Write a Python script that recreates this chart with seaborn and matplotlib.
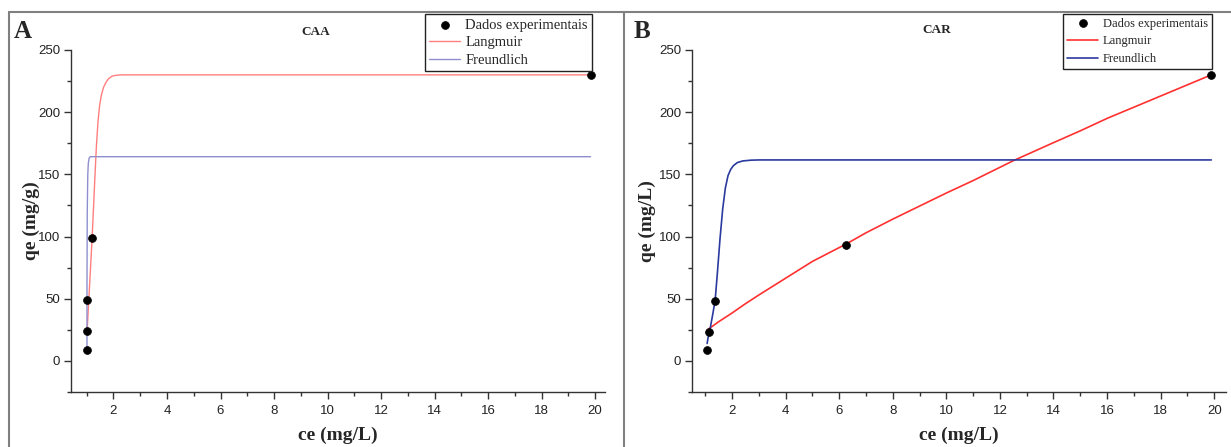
import matplotlib
matplotlib.use("Agg")
import matplotlib.pyplot as plt
import seaborn as sns
import pandas as pd
from matplotlib.ticker import MultipleLocator
from matplotlib.lines import Line2D

sns.set_theme(style="white")
plt.rcParams['font.family'] = ['Liberation Sans', 'DejaVu Sans']

# ---------------- Panel A: CAA ----------------
a_exp_ce = [1.01, 1.01, 1.01, 1.20, 19.83]
a_exp_qe = [9, 24, 49, 98.5, 230]
a_lang_ce = [1.01, 1.10, 1.20, 1.30, 1.36, 1.42, 1.48, 1.55, 1.63, 1.72, 1.82, 1.95, 2.10, 2.30, 19.83]
a_lang_qe = [22, 58, 98, 145, 172, 192, 205, 214, 220, 224, 227, 229, 229.7, 230, 230]
a_freu_ce = [1.01, 1.01, 1.02, 1.04, 1.06, 1.09, 1.13, 19.83]
a_freu_qe = [9, 60, 120, 150, 159, 163, 164.2, 164.2]

# ---------------- Panel B: CAR ----------------
b_exp_ce = [1.05, 1.15, 1.36, 6.26, 19.89]
b_exp_qe = [9, 23.5, 48.5, 93.5, 230]
b_lang_ce = [1.08, 1.5, 2.0, 2.5, 3.0, 4.0, 5.0, 6.26, 7.0, 8.0, 9.0, 10.0, 11.0, 12.5, 14.0, 15.0, 16.0, 17.0, 18.0, 19.89]
b_lang_qe = [25, 31.5, 38.5, 46, 53, 66.5, 80, 94, 103, 114, 124.5, 135, 145, 161, 175.5, 185, 195, 204, 213, 230]
b_freu_ce = [1.07, 1.10, 1.20, 1.30, 1.37, 1.45, 1.55, 1.65, 1.75, 1.85, 1.95, 2.05, 2.2, 2.4, 2.7, 3.0, 19.89]
b_freu_qe = [14, 18, 28, 40, 49, 70, 98, 122, 139, 149, 154, 157, 159.5, 160.8, 161.4, 161.6, 161.6]

fig = plt.figure(figsize=(12.31, 4.47), dpi=100)

# panel frames
gray = "#808080"
fig.add_artist(Line2D([8.7/1231, 1.0], [1-11.7/447]*2, color=gray, lw=1.5))
fig.add_artist(Line2D([8.7/1231]*2, [0, 1-11.7/447], color=gray, lw=1.5))
fig.add_artist(Line2D([623.5/1231]*2, [0, 1-11.7/447], color=gray, lw=1.5))

axA = fig.add_axes([71.2/1231, 1-392/447, (605-71.2)/1231, (392-50)/447])
axB = fig.add_axes([692.4/1231, 1-392/447, (1226-692.4)/1231, (392-50)/447])

serif = ['Liberation Serif', 'DejaVu Serif']

def draw(ax, exp_ce, exp_qe, l_ce, l_qe, f_ce, f_qe, lcol, fcol, lw, xlim, ylabel):
    sns.lineplot(x=l_ce, y=l_qe, ax=ax, color=lcol, lw=lw, sort=False, estimator=None,
                 label="Langmuir")
    sns.lineplot(x=f_ce, y=f_qe, ax=ax, color=fcol, lw=lw, sort=False, estimator=None,
                 label="Freundlich")
    sns.scatterplot(x=exp_ce, y=exp_qe, ax=ax, color="black", s=32, edgecolor="black",
                    linewidth=0.5, zorder=5, label="Dados experimentais")
    ax.set_xlim(*xlim)
    ax.set_ylim(-25, 250)
    ax.xaxis.set_minor_locator(MultipleLocator(1))
    ax.yaxis.set_minor_locator(MultipleLocator(25))
    ax.set_xticks([2, 4, 6, 8, 10, 12, 14, 16, 18, 20])
    ax.set_yticks([0, 50, 100, 150, 200, 250])
    for s in ["top", "right"]:
        ax.spines[s].set_visible(False)
    for s in ["left", "bottom"]:
        ax.spines[s].set_color("#333333")
        ax.spines[s].set_linewidth(1.0)
    ax.tick_params(which="major", direction="out", length=5, width=1, color="#333333",
                   labelsize=9.5, labelcolor="#222222", left=True, bottom=True)
    ax.tick_params(axis="x", which="major", pad=4)
    ax.tick_params(axis="y", which="major", pad=3)
    ax.tick_params(which="minor", direction="out", length=3, width=1, color="#333333",
                   left=True, bottom=True)
    ax.set_xlabel("ce (mg/L)", fontsize=14, fontweight="bold", family=serif)
    ax.set_ylabel(ylabel, fontsize=14, fontweight="bold", family=serif)
    ax.xaxis.set_label_coords(0.5, -0.1)
    ax.grid(False)
    ax.set_facecolor("white")

draw(axA, a_exp_ce, a_exp_qe, a_lang_ce, a_lang_qe, a_freu_ce, a_freu_qe,
     "#ff7f7f", "#8f8fd0", 1.0, (0.42, 20.37), "qe (mg/g)")
draw(axB, b_exp_ce, b_exp_qe, b_lang_ce, b_lang_qe, b_freu_ce, b_freu_qe,
     "#ff3030", "#2a3a9e", 1.2, (0.52, 20.44), "qe (mg/L)")
axA.yaxis.set_label_coords(-0.058, 0.5)
axB.yaxis.set_label_coords(-0.068, 0.5)

def legend(ax, right, fs, hl, ls):
    h, l = ax.get_legend_handles_labels()
    order = [l.index("Dados experimentais"), l.index("Langmuir"), l.index("Freundlich")]
    leg = ax.legend([h[i] for i in order], [l[i] for i in order],
                    loc="upper right", bbox_to_anchor=(right, 1-14/447),
                    bbox_transform=fig.transFigure, frameon=True, fancybox=False,
                    shadow=False, edgecolor="#222222", framealpha=1,
                    prop={"family": serif, "size": fs}, borderpad=0.3,
                    labelspacing=ls, handlelength=hl, handletextpad=0.35,
                    borderaxespad=0)
    leg.get_frame().set_linewidth(1.0)

legend(axA, 592/1231, 10.5, 2.1, 0.3)
legend(axB, 1211.5/1231, 9, 2.5, 0.45)

fig.text(14/1231, 1-31/447, "A", fontsize=18, fontweight="bold", family=serif,
         ha="left", va="center")
fig.text(634/1231, 1-31/447, "B", fontsize=18, fontweight="bold", family=serif,
         ha="left", va="center")
fig.text(316/1231, 1-32/447, "CAA", fontsize=9.5, fontweight="bold", family=serif,
         ha="center", va="center")
fig.text(937/1231, 1-30/447, "CAR", fontsize=9.5, fontweight="bold", family=serif,
         ha="center", va="center")

fig.savefig("out.png", dpi=100, facecolor="white")
